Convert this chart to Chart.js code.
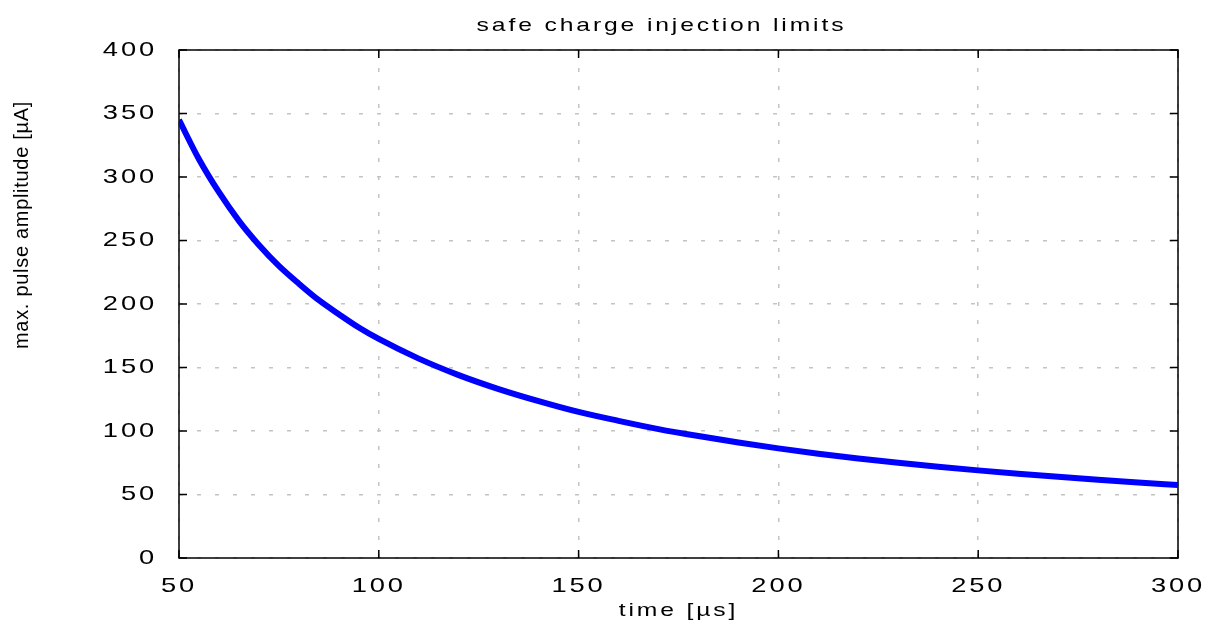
<!DOCTYPE html>
<html>
<head>
<meta charset="utf-8">
<script src="https://cdn.jsdelivr.net/npm/chart.js@4/dist/chart.umd.min.js"></script>
<style>
  html, body { margin: 0; padding: 0; background: #ffffff; }
  #wrap { width: 1214px; height: 630px; position: relative; }
</style>
</head>
<body>
<div id="wrap"><canvas id="limitChart"></canvas></div>
<script>
// values
const times = [50, 55, 60, 65, 70, 75, 80, 85, 90, 95, 100, 110, 120, 130, 140, 150, 160, 170, 180, 190, 200, 210, 220, 230, 240, 250, 260, 270, 280, 290, 300];
const amplitude = [345, 314, 288, 265.5, 246.5, 230, 216, 203, 192, 181.5, 172.5, 157, 144, 133, 123.5, 115, 108, 101.5, 96, 91, 86.3, 82.1, 78.4, 75, 71.9, 69, 66.4, 64, 61.7, 59.5, 57.5];
const xTicks = [50, 100, 150, 200, 250, 300];
const yTicks = [0, 50, 100, 150, 200, 250, 300, 350, 400];

const titleText = 'safe charge injection limits';
const xLabel = 'time [µs]';
const yLabel = 'max. pulse amplitude [µA]';

const FONT = '"Liberation Sans", Arial, sans-serif';
const STRETCH = 1.3;

// the original export draws horizontal text wide, so stretch it
const stretchText = {
  id: 'stretchText',
  beforeInit(chart) {
    const ctx = chart.ctx;
    const fill = CanvasRenderingContext2D.prototype.fillText;
    ctx.fillText = function (text, x, y) {
      const m = this.getTransform();
      if (m.b !== 0 || m.c !== 0) {
        fill.call(this, text, x, y);
        return;
      }
      this.save();
      this.letterSpacing = '2.2px';
      this.translate(x, y);
      this.scale(STRETCH, 1);
      fill.call(this, text, 0, 0);
      this.restore();
    };
  }
};

// box around the plot with inward tick marks, plus title and y label
const frame = {
  id: 'frame',
  beforeDatasetsDraw(chart) {
    const { ctx, chartArea: a, scales } = chart;
    const len = 8;
    ctx.save();
    ctx.strokeStyle = '#000000';
    ctx.lineWidth = 1.5;
    ctx.beginPath();
    xTicks.forEach(v => {
      const px = scales.x.getPixelForValue(v);
      ctx.moveTo(px, a.bottom); ctx.lineTo(px, a.bottom - len);
      ctx.moveTo(px, a.top); ctx.lineTo(px, a.top + len);
    });
    yTicks.forEach(v => {
      const py = scales.y.getPixelForValue(v);
      ctx.moveTo(a.left, py); ctx.lineTo(a.left + len, py);
      ctx.moveTo(a.right, py); ctx.lineTo(a.right - len, py);
    });
    ctx.stroke();
    ctx.strokeRect(a.left, a.top, a.right - a.left, a.bottom - a.top);
    ctx.restore();
  },
  afterDraw(chart) {
    const { ctx, chartArea: a } = chart;
    ctx.save();
    ctx.fillStyle = '#000000';
    ctx.textAlign = 'center';
    ctx.textBaseline = 'alphabetic';
    ctx.font = '19px ' + FONT;
    ctx.fillText(titleText, (a.left + a.right) / 2 - 17, 31);

    // y label sits above centre in the original
    ctx.translate(28, 225);
    ctx.rotate(-Math.PI / 2);
    ctx.font = '20px ' + FONT;
    ctx.letterSpacing = '0.7px';
    ctx.fillText(yLabel, 0, 0);
    ctx.restore();
  }
};

const points = times.map((t, i) => ({ x: t, y: amplitude[i] }));

new Chart(document.getElementById('limitChart'), {
  type: 'line',
  data: {
    datasets: [{
      data: points,
      borderColor: '#0000ff',
      borderWidth: 6,
      pointRadius: 0,
      cubicInterpolationMode: 'monotone',
      fill: false
    }]
  },
  options: {
    responsive: true,
    maintainAspectRatio: false,
    animation: false,
    events: [],
    layout: { padding: { left: 0, right: 36, top: 50, bottom: 0 } },
    plugins: {
      legend: { display: false },
      tooltip: { enabled: false },
      title: { display: false }
    },
    scales: {
      x: {
        type: 'linear',
        min: 50,
        max: 300,
        afterBuildTicks: s => { s.ticks = xTicks.map(v => ({ value: v })); },
        afterFit: s => { s.height = 72; },
        grid: {
          color: '#c4c4c4',
          lineWidth: 1.5,
          drawTicks: false
        },
        border: { display: false, dash: [4, 14] },
        ticks: {
          color: '#000000',
          padding: 16,
          maxRotation: 0,
          font: { family: FONT, size: 21 }
        },
        title: {
          display: true,
          text: xLabel,
          color: '#000000',
          font: { family: FONT, size: 19 },
          padding: { top: 0, bottom: 8 }
        }
      },
      y: {
        min: 0,
        max: 400,
        afterBuildTicks: s => { s.ticks = yTicks.map(v => ({ value: v })); },
        afterFit: s => { s.width = 179; },
        grid: {
          color: '#c4c4c4',
          lineWidth: 1.5,
          drawTicks: false
        },
        border: { display: false, dash: [4, 14] },
        ticks: {
          color: '#000000',
          padding: 22,
          font: { family: FONT, size: 21 }
        }
      }
    }
  },
  plugins: [stretchText, frame]
});
</script>
</body>
</html>
